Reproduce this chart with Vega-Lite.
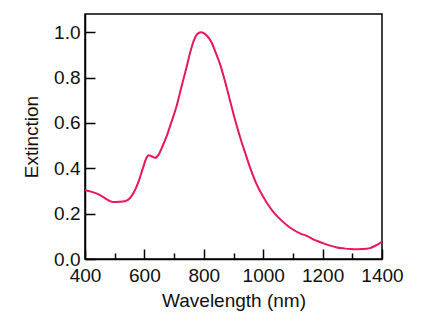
{
  "$schema": "https://vega.github.io/schema/vega-lite/v6.json",
  "width": 297,
  "height": 245,
  "autosize": {"type": "none"},
  "padding": {"left": 85, "top": 14, "right": 49, "bottom": 66},
  "background": "white",
  "config": {
    "view": {"stroke": "black", "strokeWidth": 1.5},
    "font": "Liberation Sans",
    "axis": {
      "domainColor": "black",
      "domainWidth": 1.5,
      "tickColor": "black",
      "tickWidth": 1.5,
      "labelFont": "Liberation Sans",
      "labelFontSize": 19,
      "labelColor": "#111",
      "titleFont": "Liberation Sans",
      "titleFontSize": 19,
      "titleFontWeight": "normal",
      "titleColor": "#111",
      "grid": false
    }
  },
  "data": {
    "values": [
      {"wl": 400, "ext": 0.303},
      {"wl": 420, "ext": 0.297},
      {"wl": 440, "ext": 0.288},
      {"wl": 460, "ext": 0.274},
      {"wl": 480, "ext": 0.258},
      {"wl": 495, "ext": 0.251},
      {"wl": 515, "ext": 0.252},
      {"wl": 534, "ext": 0.255},
      {"wl": 551, "ext": 0.268},
      {"wl": 565, "ext": 0.295},
      {"wl": 580, "ext": 0.34},
      {"wl": 596, "ext": 0.405},
      {"wl": 606, "ext": 0.443},
      {"wl": 614, "ext": 0.457},
      {"wl": 624, "ext": 0.453},
      {"wl": 636, "ext": 0.446},
      {"wl": 648, "ext": 0.46},
      {"wl": 660, "ext": 0.494},
      {"wl": 674, "ext": 0.538},
      {"wl": 690, "ext": 0.6},
      {"wl": 708, "ext": 0.672},
      {"wl": 725, "ext": 0.76},
      {"wl": 742, "ext": 0.846},
      {"wl": 755, "ext": 0.915},
      {"wl": 767, "ext": 0.965},
      {"wl": 778, "ext": 0.992},
      {"wl": 790, "ext": 1.0},
      {"wl": 800, "ext": 0.996},
      {"wl": 812, "ext": 0.982},
      {"wl": 825, "ext": 0.958},
      {"wl": 840, "ext": 0.91},
      {"wl": 855, "ext": 0.858},
      {"wl": 870, "ext": 0.79},
      {"wl": 888, "ext": 0.7},
      {"wl": 905, "ext": 0.615},
      {"wl": 922, "ext": 0.538},
      {"wl": 940, "ext": 0.465},
      {"wl": 955, "ext": 0.406},
      {"wl": 975, "ext": 0.338},
      {"wl": 1000, "ext": 0.274},
      {"wl": 1017, "ext": 0.238},
      {"wl": 1034, "ext": 0.208},
      {"wl": 1055, "ext": 0.178},
      {"wl": 1079, "ext": 0.15},
      {"wl": 1100, "ext": 0.13},
      {"wl": 1124, "ext": 0.113},
      {"wl": 1150, "ext": 0.1},
      {"wl": 1175, "ext": 0.083},
      {"wl": 1203, "ext": 0.069},
      {"wl": 1225, "ext": 0.059},
      {"wl": 1248, "ext": 0.051},
      {"wl": 1270, "ext": 0.047},
      {"wl": 1293, "ext": 0.044},
      {"wl": 1320, "ext": 0.043},
      {"wl": 1349, "ext": 0.045},
      {"wl": 1362, "ext": 0.049},
      {"wl": 1375, "ext": 0.057},
      {"wl": 1388, "ext": 0.066},
      {"wl": 1400, "ext": 0.077}
    ]
  },
  "layer": [
    {
      "mark": {"type": "line", "opacity": 0},
      "encoding": {
        "x": {
          "field": "wl", "type": "quantitative",
          "scale": {"domain": [400, 1400], "nice": false},
          "axis": {"orient": "bottom", "values": [500, 700, 900, 1100, 1300], "labels": false, "title": null, "tickSize": -6, "domain": false}
        },
        "y": {
          "field": "ext", "type": "quantitative",
          "scale": {"domain": [0, 1.08], "nice": false},
          "axis": {
            "orient": "left",
            "values": [0, 0.2, 0.4, 0.6, 0.8, 1.0],
            "format": ".1f",
            "tickSize": -10,
            "labelPadding": 15,
            "title": "Extinction",
            "titlePadding": 12,
            "labelFlush": false
          }
        }
      }
    },
    {
      "mark": {"type": "line", "color": "#e8175d", "strokeWidth": 2, "interpolate": "monotone"},
      "encoding": {
        "x": {
          "field": "wl", "type": "quantitative",
          "scale": {"domain": [400, 1400], "nice": false},
          "axis": {
            "orient": "bottom",
            "values": [400, 600, 800, 1000, 1200, 1400],
            "format": "d",
            "tickSize": -10,
            "labelPadding": 17,
            "title": "Wavelength (nm)",
            "titlePadding": 6,
            "labelFlush": false
          }
        },
        "y": {
          "field": "ext", "type": "quantitative",
          "scale": {"domain": [0, 1.08], "nice": false},
          "axis": {
            "orient": "left",
            "values": [0, 0.2, 0.4, 0.6, 0.8, 1.0],
            "format": ".1f",
            "tickSize": -10,
            "labelPadding": 15,
            "title": "Extinction",
            "titlePadding": 12,
            "labelFlush": false
          }
        }
      }
    }
  ],
  "resolve": {"axis": {"x": "independent"}}
}
